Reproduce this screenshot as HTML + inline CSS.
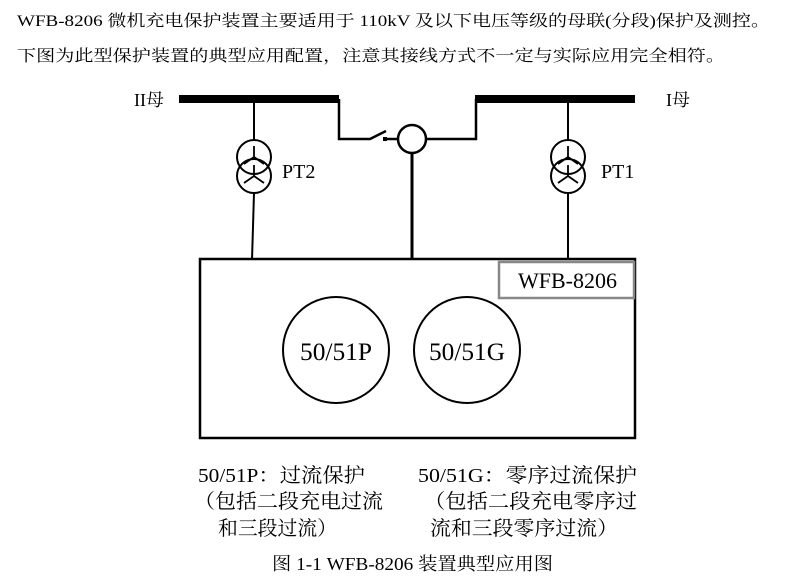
<!DOCTYPE html>
<html><head><meta charset="utf-8"><style>
html,body{margin:0;padding:0;background:#fff;}
svg{display:block;}
text{font-family:"Liberation Serif","Noto Serif CJK SC",serif;fill:#000;}
</style></head><body>
<svg width="790" height="580" viewBox="0 0 790 580" xmlns="http://www.w3.org/2000/svg">
<text x="17" y="26" font-size="16" textLength="753" lengthAdjust="spacingAndGlyphs">WFB-8206 微机充电保护装置主要适用于 110kV 及以下电压等级的母联(分段)保护及测控。</text>
<text x="17" y="61" font-size="16" textLength="708" lengthAdjust="spacingAndGlyphs">下图为此型保护装置的典型应用配置，注意其接线方式不一定与实际应用完全相符。</text>

<text x="134" y="106" font-size="18">II母</text>
<text x="666" y="106" font-size="18">I母</text>

<g stroke="#000" fill="none">
<rect x="179" y="95" width="160" height="8" fill="#000" stroke="none"/>
<rect x="475" y="95" width="160" height="8" fill="#000" stroke="none"/>
<polyline points="339,99 339,139 370,139 386,131" stroke-width="2.5"/>
<line x1="385" y1="139" x2="398" y2="139" stroke-width="2.5"/>
<rect x="383" y="137" width="4" height="4" fill="#000" stroke="none"/>
<circle cx="412" cy="139" r="14" stroke-width="2.5"/>
<polyline points="426,139 476,139 476,99" stroke-width="2.5"/>
<line x1="412" y1="153" x2="412" y2="260" stroke-width="3"/>

<line x1="254" y1="99" x2="254" y2="140" stroke-width="2"/>
<circle cx="254" cy="157" r="17" stroke-width="2"/>
<circle cx="254" cy="176" r="17" stroke-width="2"/>
<path d="M254 146 V157 M254 157 L244 164 M254 157 L264 164 M254 176 V165 M254 176 L244 183 M254 176 L264 183" stroke-width="1.8"/>
<line x1="254" y1="193" x2="252" y2="260" stroke-width="2"/>
<line x1="568" y1="99" x2="568" y2="140" stroke-width="2"/>
<circle cx="568" cy="157" r="17" stroke-width="2"/>
<circle cx="568" cy="176" r="17" stroke-width="2"/>
<path d="M568 146 V157 M568 157 L558 164 M568 157 L578 164 M568 176 V165 M568 176 L558 183 M568 176 L578 183" stroke-width="1.8"/>
<line x1="568" y1="193" x2="568" y2="260" stroke-width="2"/>

<rect x="200" y="259" width="435" height="179" stroke-width="2.5"/>
<rect x="499" y="262" width="135" height="36" stroke="#888" stroke-width="2.5"/>
<circle cx="336" cy="350" r="53" stroke-width="2"/>
<circle cx="467" cy="350" r="53" stroke-width="2"/>
</g>

<text x="282" y="178" font-size="20">PT2</text>
<text x="601" y="178" font-size="20">PT1</text>
<text x="518" y="288" font-size="22" textLength="99" lengthAdjust="spacingAndGlyphs">WFB-8206</text>
<text x="300" y="360" font-size="25" textLength="72" lengthAdjust="spacingAndGlyphs">50/51P</text>
<text x="429" y="360" font-size="25" textLength="76" lengthAdjust="spacingAndGlyphs">50/51G</text>

<text x="198" y="482" font-size="20" textLength="167" lengthAdjust="spacingAndGlyphs">50/51P：过流保护</text>
<text x="194" y="508" font-size="20" textLength="189" lengthAdjust="spacingAndGlyphs">（包括二段充电过流</text>
<text x="218" y="535" font-size="20" textLength="119" lengthAdjust="spacingAndGlyphs">和三段过流）</text>
<text x="418" y="482" font-size="20" textLength="219" lengthAdjust="spacingAndGlyphs">50/51G：零序过流保护</text>
<text x="424" y="508" font-size="20" textLength="213" lengthAdjust="spacingAndGlyphs">（包括二段充电零序过</text>
<text x="430" y="535" font-size="20" textLength="188" lengthAdjust="spacingAndGlyphs">流和三段零序过流）</text>
<text x="272" y="570" font-size="18" textLength="281" lengthAdjust="spacingAndGlyphs">图 1-1 WFB-8206 装置典型应用图</text>
</svg>
</body></html>
